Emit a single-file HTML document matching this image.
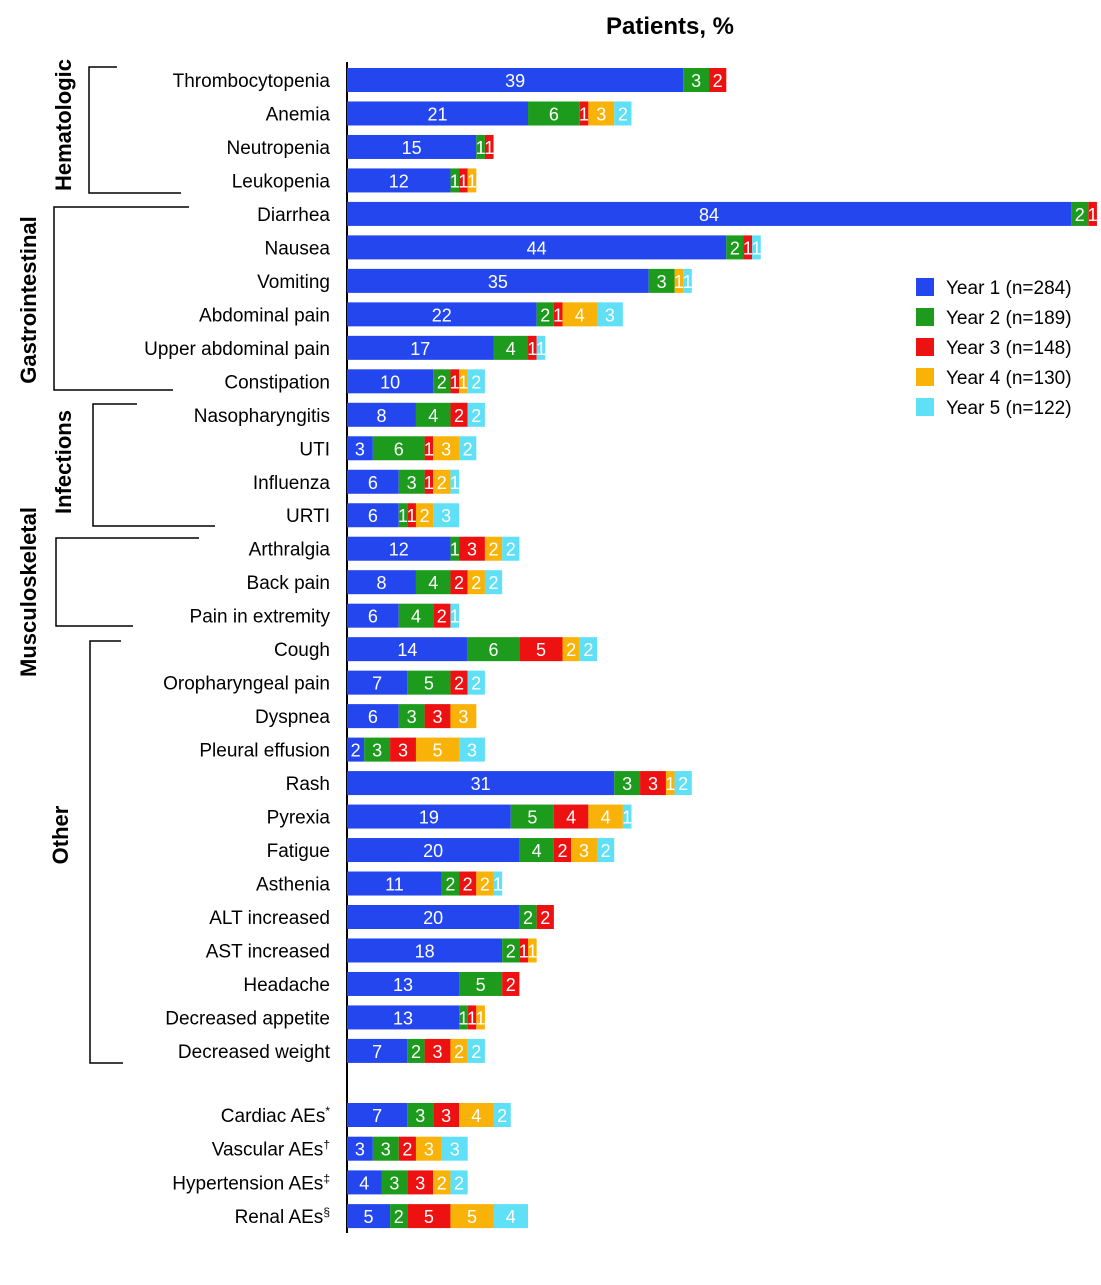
<!DOCTYPE html>
<html><head><meta charset="utf-8"><style>
body{margin:0;background:#fff;font-family:"Liberation Sans",sans-serif}
svg text{font-family:"Liberation Sans",sans-serif}
</style></head><body>
<svg id="chart" width="1101" height="1280" xmlns="http://www.w3.org/2000/svg">
<text x="670" y="34" text-anchor="middle" font-size="24" font-weight="bold">Patients, %</text>
<line x1="347" y1="62" x2="347" y2="1233" stroke="#000" stroke-width="2"/>
<g id="bars"></g>
<g id="brackets" stroke="#000" stroke-width="1.5" fill="none">
<path d="M117 67H89V193H181"/>
<path d="M189 207H54V390H173"/>
<path d="M137 404H93V526H215"/>
<path d="M199 538H56V626H133"/>
<path d="M121 641H90V1063H123"/>
</g>
<g font-size="22" font-weight="bold" text-anchor="middle">
<text transform="translate(71,125) rotate(-90)">Hematologic</text>
<text transform="translate(36,300) rotate(-90)">Gastrointestinal</text>
<text transform="translate(71,462) rotate(-90)">Infections</text>
<text transform="translate(36,592) rotate(-90)">Musculoskeletal</text>
<text transform="translate(68,835) rotate(-90)">Other</text>
</g>
<g id="legend"></g>
</svg>
<script>
const categories=["Thrombocytopenia","Anemia","Neutropenia","Leukopenia","Diarrhea","Nausea","Vomiting","Abdominal pain","Upper abdominal pain","Constipation","Nasopharyngitis","UTI","Influenza","URTI","Arthralgia","Back pain","Pain in extremity","Cough","Oropharyngeal pain","Dyspnea","Pleural effusion","Rash","Pyrexia","Fatigue","Asthenia","ALT increased","AST increased","Headache","Decreased appetite","Decreased weight","Cardiac AEs","Vascular AEs","Hypertension AEs","Renal AEs"];
const footnotes=["","","","","","","","","","","","","","","","","","","","","","","","","","","","","","","*","†","‡","§"];
const year1=[39,21,15,12,84,44,35,22,17,10,8,3,6,6,12,8,6,14,7,6,2,31,19,20,11,20,18,13,13,7,7,3,4,5];
const year2=[3,6,1,1,2,2,3,2,4,2,4,6,3,1,1,4,4,6,5,3,3,3,5,4,2,2,2,5,1,2,3,3,3,2];
const year3=[2,1,1,1,1,1,0,1,1,1,2,1,1,1,3,2,2,5,2,3,3,3,4,2,2,2,1,2,1,3,3,2,3,5];
const year4=[0,3,0,1,0,0,1,4,0,1,0,3,2,2,2,2,0,2,0,3,5,1,4,3,2,0,1,0,1,2,4,3,2,5];
const year5=[0,2,0,0,0,1,1,3,1,2,2,2,1,3,2,2,1,2,2,0,3,2,1,2,1,0,0,0,0,2,2,3,2,4];
const seriesNames=["Year 1 (n=284)","Year 2 (n=189)","Year 3 (n=148)","Year 4 (n=130)","Year 5 (n=122)"];
const colors=["#2346ef","#1c9b1c","#ee1111","#f9b208","#5fe0f7"];
const series=[year1,year2,year3,year4,year5];
const NS="http://www.w3.org/2000/svg";
const x0=347,scale=8.62;
function xPos(v){return x0+v*scale;}
function yPos(i){return i<30?80+i*33.48:1115+(i-30)*33.7;}
const bars=document.getElementById('bars');
categories.forEach((c,i)=>{
  const y=yPos(i);
  const t=document.createElementNS(NS,'text');
  t.setAttribute('x',330);t.setAttribute('y',y+7);t.setAttribute('text-anchor','end');t.setAttribute('font-size','19');
  t.appendChild(document.createTextNode(c));
  if(footnotes[i]){
    const sp=document.createElementNS(NS,'tspan');
    sp.setAttribute('font-size','12');sp.setAttribute('dy','-7');
    sp.textContent=footnotes[i];
    t.appendChild(sp);
  }
  
  
  bars.appendChild(t);
  let cum=0;
  series.forEach((s,k)=>{
    const v=s[i];if(!v)return;
    const r=document.createElementNS(NS,'rect');
    r.setAttribute('x',xPos(cum));r.setAttribute('y',y-12);r.setAttribute('width',xPos(cum+v)-xPos(cum));r.setAttribute('height',24);r.setAttribute('fill',colors[k]);
    
    
    bars.appendChild(r);
    const lt=document.createElementNS(NS,'text');
    lt.setAttribute('x',(xPos(cum)+xPos(cum+v))/2);lt.setAttribute('y',y+7);lt.setAttribute('text-anchor','middle');lt.setAttribute('font-size','18');lt.setAttribute('fill','#fff');
    lt.textContent=v;
    
    
    bars.appendChild(lt);
    cum+=v;
  });
});
const lg=document.getElementById('legend');
seriesNames.forEach((n,k)=>{
  const y=287+k*30;
  const r=document.createElementNS(NS,'rect');
  r.setAttribute('x',916);r.setAttribute('y',y-9);r.setAttribute('width',18);r.setAttribute('height',18);r.setAttribute('fill',colors[k]);
  
  
  lg.appendChild(r);
  const t=document.createElementNS(NS,'text');
  t.setAttribute('x',946);t.setAttribute('y',y+7);t.setAttribute('font-size','19');
  t.textContent=n;
  
  
  lg.appendChild(t);
});
</script>
</body></html>
